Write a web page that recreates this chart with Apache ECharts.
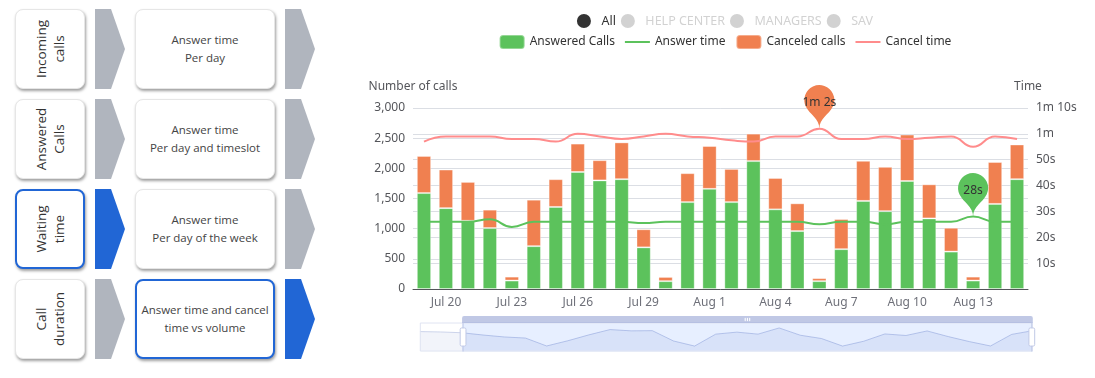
<!DOCTYPE html>
<html>
<head>
<meta charset="utf-8">
<script src="https://cdn.jsdelivr.net/npm/echarts@6/dist/echarts.min.js"></script>
<style>
  html, body { margin: 0; padding: 0; background: #fff; width: 1095px; height: 378px; overflow: hidden; font-family: 'Open Sans', sans-serif; }
  .box { position: absolute; background: #fff; border-radius: 8px; box-sizing: border-box; border: 1px solid #e6e6e6;
         box-shadow: 1px 2px 3px rgba(0,0,0,0.38); color: #444; }
  .box.sel { border: 2px solid #2166d5; }
  .c1 { left: 15px; width: 70px; height: 80px; }
  .c2 { left: 135px; width: 140px; height: 80px; display: flex; align-items: center; justify-content: center; text-align: center; font-size: 11.5px; line-height: 18px; }
  .rot { position: absolute; left: 50%; top: 50%; width: 80px; transform: translate(-50%, -50%) rotate(-90deg); text-align: center; font-size: 13.5px; line-height: 18px; color: #333; }
  .arrow { position: absolute; width: 30px; height: 80px; }
  #chart { position: absolute; left: 355px; top: 0; width: 740px; height: 378px; }
</style>
</head>
<body>
<div id="panel"></div>
<div id="chart"></div>
<script>
// ---- Left navigation panel content ----
const navTitles = [['Incoming', 'calls'], ['Answered', 'Calls'], ['Waiting', 'time'], ['Call', 'duration']];
const navViews = [['Answer time', 'Per day'], ['Answer time', 'Per day and timeslot'], ['Answer time', 'Per day of the week'], ['Answer time and cancel', 'time vs volume']];
const navActiveTitle = 2;
const navActiveView = 3;

// ---- Chart data ----
const categories = ['Jul 17', 'Jul 18', 'Jul 19', 'Jul 20', 'Jul 21', 'Jul 22', 'Jul 23', 'Jul 24', 'Jul 25', 'Jul 26',
  'Jul 27', 'Jul 28', 'Jul 29', 'Jul 30', 'Jul 31', 'Aug 1', 'Aug 2', 'Aug 3', 'Aug 4', 'Aug 5',
  'Aug 6', 'Aug 7', 'Aug 8', 'Aug 9', 'Aug 10', 'Aug 11', 'Aug 12', 'Aug 13', 'Aug 14', 'Aug 15'];
const answeredCalls = [1720, 1680, 1590, 1340, 1130, 1010, 140, 710, 1360, 1940,
  1800, 1820, 690, 130, 1440, 1660, 1440, 2120, 1320, 960,
  130, 660, 1460, 1290, 1790, 1170, 620, 140, 1410, 1820];
const canceledCalls = [530, 520, 615, 640, 645, 305, 65, 770, 460, 470,
  335, 610, 300, 70, 480, 710, 550, 455, 520, 460,
  50, 500, 665, 735, 770, 565, 395, 65, 695, 575];
const answerTime = [26, 26, 26, 26, 26, 27, 24, 26, 26, 26,
  26, 26, 25.5, 26, 26, 26, 26, 26, 26, 26,
  25, 26, 26, 25, 26, 26, 26, 28, 26, 26];
const cancelTime = [58, 58, 57, 59, 59, 59, 58, 58, 57, 60,
  59, 58, 59, 60, 59, 58.5, 57.5, 57, 59, 59,
  62, 58, 58, 59, 58, 58.5, 59, 55, 59, 58];
const groupNames = ['All', 'HELP CENTER', 'MANAGERS', 'SAV'];
const seriesNames = ['Answered Calls', 'Answer time', 'Canceled calls', 'Cancel time'];

// ---- Build left panel ----
(function () {
  const panel = document.getElementById('panel');
  const tops = [9, 99, 189, 279];
  const arrowSvg = (color) => '<svg width="30" height="80" viewBox="0 0 30 80"><polygon points="0,0 16,0 30,40 16,80 0,80" fill="' + color + '"/></svg>';
  tops.forEach((t, i) => {
    const b1 = document.createElement('div');
    b1.className = 'box c1' + (i === navActiveTitle ? ' sel' : '');
    b1.style.top = t + 'px';
    b1.innerHTML = '<div class="rot">' + navTitles[i].join('<br>') + '</div>';
    panel.appendChild(b1);

    const a1 = document.createElement('div');
    a1.className = 'arrow';
    a1.style.left = '95px'; a1.style.top = t + 'px';
    a1.innerHTML = arrowSvg(i === navActiveTitle ? '#2166d5' : '#b0b5be');
    panel.appendChild(a1);

    const b2 = document.createElement('div');
    b2.className = 'box c2' + (i === navActiveView ? ' sel' : '');
    b2.style.top = t + 'px';
    b2.innerHTML = '<div>' + navViews[i].join('<br>') + '</div>';
    panel.appendChild(b2);

    const a2 = document.createElement('div');
    a2.className = 'arrow';
    a2.style.left = '285px'; a2.style.top = t + 'px';
    a2.innerHTML = arrowSvg(i === navActiveView ? '#2166d5' : '#b0b5be');
    panel.appendChild(a2);
  });
})();

// ---- Chart ----
function fmtTime(s) {
  if (!s) return '';
  const m = Math.floor(s / 60);
  const r = Math.round(s % 60);
  if (m) return r ? m + 'm ' + r + 's' : m + 'm';
  return r + 's';
}
const labelEvery = (idx) => idx % 3 === 0;

const GREEN = '#5cc25c';
const ORANGE = '#f08050';
const PINK = '#ff8c8c';
const LINE_ICON = 'path://M0,0 L25,0 L25,2 L0,2 Z';

const chart = echarts.init(document.getElementById('chart'), null, { renderer: 'canvas' });
const option = {
  animation: false,
  textStyle: { fontFamily: 'Noto Sans, sans-serif' },
  legend: [
    {
      data: groupNames, top: 9, left: 'center', icon: 'circle', itemWidth: 25, itemHeight: 14, itemGap: 5,
      selected: { 'HELP CENTER': false, 'MANAGERS': false, 'SAV': false },
      inactiveColor: '#d2d2d2', textStyle: { color: '#333', fontSize: 12.5 }
    },
    {
      data: [
        { name: seriesNames[0] },
        { name: seriesNames[1], icon: LINE_ICON },
        { name: seriesNames[2] },
        { name: seriesNames[3], icon: LINE_ICON }
      ],
      top: 29, left: 'center', itemWidth: 25, itemHeight: 14, itemGap: 10,
      textStyle: { color: '#333', fontSize: 12 }
    }
  ],
  grid: { left: 58, right: 67, top: 108, bottom: 89 },
  xAxis: {
    type: 'category', data: categories,
    axisLabel: { interval: labelEvery, color: '#6E7079', fontSize: 12 },
    axisTick: { alignWithLabel: true, interval: labelEvery }
  },
  yAxis: [
    { type: 'value', name: 'Number of calls', min: 0, max: 3000, interval: 500, nameTextStyle: { fontSize: 12 } },
    { type: 'value', name: 'Time', min: 0, max: 70, interval: 10, axisLabel: { formatter: fmtTime } }
  ],
  dataZoom: [
    { type: 'slider', startValue: 2, endValue: 29, left: 62, right: 65, top: 316, height: 29, showDetail: false },
    { type: 'inside', startValue: 2, endValue: 29 }
  ],
  series: [
    { name: 'Answered Calls', type: 'bar', stack: 'calls', barWidth: '65%', data: answeredCalls,
      itemStyle: { color: GREEN, borderColor: 'rgba(255,255,255,0.35)', borderWidth: 1 } },
    { name: 'Answer time', type: 'line', yAxisIndex: 1, smooth: true, symbol: 'none', z: 5, data: answerTime,
      lineStyle: { color: GREEN, width: 2 }, itemStyle: { color: GREEN },
      markPoint: { data: [{ type: 'max' }], itemStyle: { color: GREEN },
        label: { color: '#333', fontSize: 12, formatter: (p) => fmtTime(p.value) } } },
    { name: 'Canceled calls', type: 'bar', stack: 'calls', barWidth: '65%', data: canceledCalls,
      itemStyle: { color: ORANGE, borderColor: 'rgba(255,255,255,0.35)', borderWidth: 1 } },
    { name: 'Cancel time', type: 'line', yAxisIndex: 1, smooth: true, symbol: 'none', z: 5, data: cancelTime,
      lineStyle: { color: PINK, width: 2 }, itemStyle: { color: PINK },
      markPoint: { data: [{ type: 'max' }], itemStyle: { color: ORANGE },
        label: { color: '#333', fontSize: 12, formatter: (p) => fmtTime(p.value) } } },
    { name: 'All', type: 'line', data: [], itemStyle: { color: '#333' } },
    { name: 'HELP CENTER', type: 'line', data: [], itemStyle: { color: '#888' } },
    { name: 'MANAGERS', type: 'line', data: [], itemStyle: { color: '#888' } },
    { name: 'SAV', type: 'line', data: [], itemStyle: { color: '#888' } }
  ]
};
chart.setOption(option);
</script>
</body>
</html>
